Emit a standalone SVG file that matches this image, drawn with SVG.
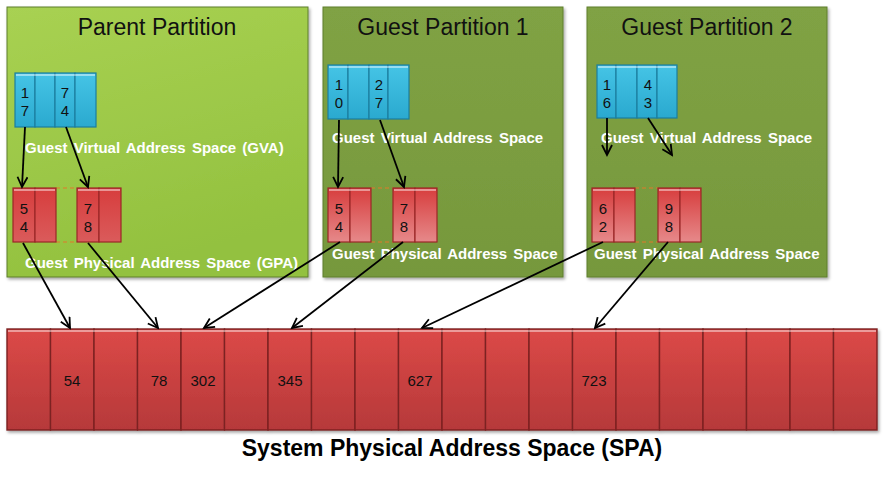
<svg xmlns="http://www.w3.org/2000/svg" width="884" height="480" viewBox="0 0 884 480">
<defs>
<linearGradient id="gParent" x1="0" y1="0" x2="0.3" y2="1"><stop offset="0" stop-color="#A8D152"/><stop offset="1" stop-color="#93C13F"/></linearGradient>
<linearGradient id="gGuest" x1="0" y1="0" x2="0" y2="1"><stop offset="0" stop-color="#80A244"/><stop offset="1" stop-color="#76983C"/></linearGradient>
<linearGradient id="gCyan" x1="0" y1="0" x2="0" y2="1"><stop offset="0" stop-color="#45C4E6"/><stop offset="1" stop-color="#2AA9CF"/></linearGradient>
<linearGradient id="gGpa" x1="0" y1="0" x2="0" y2="1"><stop offset="0" stop-color="#D73D3D"/><stop offset="1" stop-color="#E6898A"/></linearGradient>
<linearGradient id="gGpaP" x1="0" y1="0" x2="0" y2="1"><stop offset="0" stop-color="#D73D3D"/><stop offset="1" stop-color="#DA5B5B"/></linearGradient>
<linearGradient id="gSpa" x1="0" y1="0" x2="0" y2="1"><stop offset="0" stop-color="#DC4947"/><stop offset="1" stop-color="#B6393A"/></linearGradient>
<filter id="sh" x="-5%" y="-5%" width="110%" height="110%"><feDropShadow dx="1.5" dy="2" stdDeviation="1.5" flood-color="#000" flood-opacity="0.35"/></filter>
<marker id="ah" markerUnits="userSpaceOnUse" markerWidth="14" markerHeight="14" refX="11" refY="6" orient="auto"><path d="M1,1 L11,6 L1,11" fill="none" stroke="#000" stroke-width="1.8"/></marker>
<style>
.part{stroke:#5E7E2C;stroke-width:1;filter:url(#sh)}
.title{font-family:"Liberation Sans",Arial,sans-serif;font-size:23px;fill:#111;text-anchor:middle}
.lbl{font-family:"Liberation Sans",Arial,sans-serif;font-size:15px;font-weight:bold;fill:#fff;word-spacing:2px}
.cyan{fill:url(#gCyan);stroke:#1B7E9F;stroke-width:1.2}
.gpa{fill:url(#gGpa);stroke:#9A2727;stroke-width:1.2}
.gpap{fill:url(#gGpaP);stroke:#9A2727;stroke-width:1.2}
.spa{fill:url(#gSpa);stroke:#7C2222;stroke-width:1.4}
.hl{stroke:#ffffff;stroke-opacity:0.45;stroke-width:2}
.num{font-family:"Liberation Sans",Arial,sans-serif;font-size:15px;fill:#111;text-anchor:middle}
.dash{stroke:#E07A2A;stroke-width:1.2;stroke-dasharray:4,3;fill:none}
.conn{stroke:#000;stroke-width:1.8;fill:none;marker-end:url(#ah)}
.spatitle{font-family:"Liberation Sans",Arial,sans-serif;font-size:23px;font-weight:bold;fill:#000;text-anchor:middle}
</style>
</defs>
<rect width="884" height="480" fill="#fff"/>

<g id="parent-partition">
<rect class="part" x="7" y="7" width="301" height="270" fill="url(#gParent)"/>
<text class="title" x="157" y="35">Parent Partition</text>
<g id="parent-gva">
<rect class="cyan" x="15" y="73" width="20" height="54"/><rect class="cyan" x="35" y="73" width="20" height="54"/><rect class="cyan" x="55" y="73" width="20" height="54"/><rect class="cyan" x="75" y="73" width="21" height="54"/>
<path class="hl" d="M16,75H95"/>
<text class="num" x="25" y="98">1</text><text class="num" x="25" y="116">7</text>
<text class="num" x="65" y="98">7</text><text class="num" x="65" y="116">4</text>
</g>
<text class="lbl" x="25" y="153">Guest Virtual Address Space (GVA)</text>
<g id="parent-gpa">
<path class="dash" d="M56,188H77M56,242H77"/>
<rect class="gpap" x="13" y="188" width="22" height="54"/><rect class="gpap" x="35" y="188" width="21" height="54"/>
<rect class="gpap" x="77" y="188" width="22" height="54"/><rect class="gpap" x="99" y="188" width="22" height="54"/>
<path class="hl" d="M14,190H55M78,190H120"/>
<text class="num" x="24" y="214">5</text><text class="num" x="24" y="232">4</text>
<text class="num" x="88" y="214">7</text><text class="num" x="88" y="232">8</text>
</g>
<text class="lbl" x="25" y="268">Guest Physical Address Space (GPA)</text>
</g>

<g id="guest-partition-1">
<rect class="part" x="323" y="7" width="240" height="270" fill="url(#gGuest)"/>
<text class="title" x="443" y="35">Guest Partition 1</text>
<g id="gp1-gva">
<rect class="cyan" x="328" y="65" width="20" height="54"/><rect class="cyan" x="348" y="65" width="21" height="54"/><rect class="cyan" x="369" y="65" width="19" height="54"/><rect class="cyan" x="388" y="65" width="21" height="54"/>
<path class="hl" d="M329,67H408"/>
<text class="num" x="339" y="90">1</text><text class="num" x="339" y="108">0</text>
<text class="num" x="379" y="90">2</text><text class="num" x="379" y="108">7</text>
</g>
<text class="lbl" x="332" y="143">Guest Virtual Address Space</text>
<g id="gp1-gpa">
<path class="dash" d="M371,188H393M371,242H393"/>
<rect class="gpa" x="328" y="188" width="22" height="54"/><rect class="gpa" x="350" y="188" width="21" height="54"/>
<rect class="gpa" x="393" y="188" width="22" height="54"/><rect class="gpa" x="415" y="188" width="22" height="54"/>
<path class="hl" d="M329,190H370M394,190H436"/>
<text class="num" x="339" y="214">5</text><text class="num" x="339" y="232">4</text>
<text class="num" x="404" y="214">7</text><text class="num" x="404" y="232">8</text>
</g>
<text class="lbl" x="332" y="259">Guest Physical Address Space</text>
</g>

<g id="guest-partition-2">
<rect class="part" x="587" y="7" width="240" height="270" fill="url(#gGuest)"/>
<text class="title" x="707" y="35">Guest Partition 2</text>
<g id="gp2-gva">
<rect class="cyan" x="597" y="65" width="19" height="53"/><rect class="cyan" x="616" y="65" width="21" height="53"/><rect class="cyan" x="637" y="65" width="20" height="53"/><rect class="cyan" x="657" y="65" width="20" height="53"/>
<path class="hl" d="M598,67H676"/>
<text class="num" x="607" y="90">1</text><text class="num" x="607" y="108">6</text>
<text class="num" x="648" y="90">4</text><text class="num" x="648" y="108">3</text>
</g>
<text class="lbl" x="601" y="143">Guest Virtual Address Space</text>
<g id="gp2-gpa">
<path class="dash" d="M635,188H658M635,242H658"/>
<rect class="gpa" x="592" y="188" width="22" height="54"/><rect class="gpa" x="614" y="188" width="21" height="54"/>
<rect class="gpa" x="658" y="188" width="22" height="54"/><rect class="gpa" x="680" y="188" width="21" height="54"/>
<path class="hl" d="M593,190H634M659,190H700"/>
<text class="num" x="603" y="214">6</text><text class="num" x="603" y="232">2</text>
<text class="num" x="669" y="214">9</text><text class="num" x="669" y="232">8</text>
</g>
<text class="lbl" x="594" y="259">Guest Physical Address Space</text>
</g>

<g id="spa">
<g filter="url(#sh)">
<rect class="spa" x="7" y="329" width="43.5" height="101"/><rect class="spa" x="50.5" y="329" width="43.5" height="101"/><rect class="spa" x="94" y="329" width="43.5" height="101"/><rect class="spa" x="137.5" y="329" width="43.5" height="101"/><rect class="spa" x="181" y="329" width="43.5" height="101"/><rect class="spa" x="224.5" y="329" width="43.5" height="101"/><rect class="spa" x="268" y="329" width="43.5" height="101"/><rect class="spa" x="311.5" y="329" width="43.5" height="101"/><rect class="spa" x="355" y="329" width="43.5" height="101"/><rect class="spa" x="398.5" y="329" width="43.5" height="101"/><rect class="spa" x="442" y="329" width="43.5" height="101"/><rect class="spa" x="485.5" y="329" width="43.5" height="101"/><rect class="spa" x="529" y="329" width="43.5" height="101"/><rect class="spa" x="572.5" y="329" width="43.5" height="101"/><rect class="spa" x="616" y="329" width="43.5" height="101"/><rect class="spa" x="659.5" y="329" width="43.5" height="101"/><rect class="spa" x="703" y="329" width="43.5" height="101"/><rect class="spa" x="746.5" y="329" width="43.5" height="101"/><rect class="spa" x="790" y="329" width="43.5" height="101"/><rect class="spa" x="833.5" y="329" width="43.5" height="101"/>
</g>
<path class="hl" d="M8,331H876"/>
<text class="num" x="72" y="386">54</text>
<text class="num" x="159" y="386">78</text>
<text class="num" x="203" y="386">302</text>
<text class="num" x="290" y="386">345</text>
<text class="num" x="420" y="386">627</text>
<text class="num" x="594" y="386">723</text>
<text class="spatitle" x="452" y="456">System Physical Address Space (SPA)</text>
</g>

<g id="connectors">
<path class="conn" d="M25,127L22,187"/>
<path class="conn" d="M66,127L88,187"/>
<path class="conn" d="M339,120L338,187"/>
<path class="conn" d="M380,120L404,187"/>
<path class="conn" d="M607,118L607,155"/>
<path class="conn" d="M648,118L672,155"/>
<path class="conn" d="M23,243L70,328"/>
<path class="conn" d="M88,243L158,328"/>
<path class="conn" d="M340,242L204,328"/>
<path class="conn" d="M403,242L292,328"/>
<path class="conn" d="M603,242L422,328"/>
<path class="conn" d="M668,242L595,328"/>
</g>
</svg>
